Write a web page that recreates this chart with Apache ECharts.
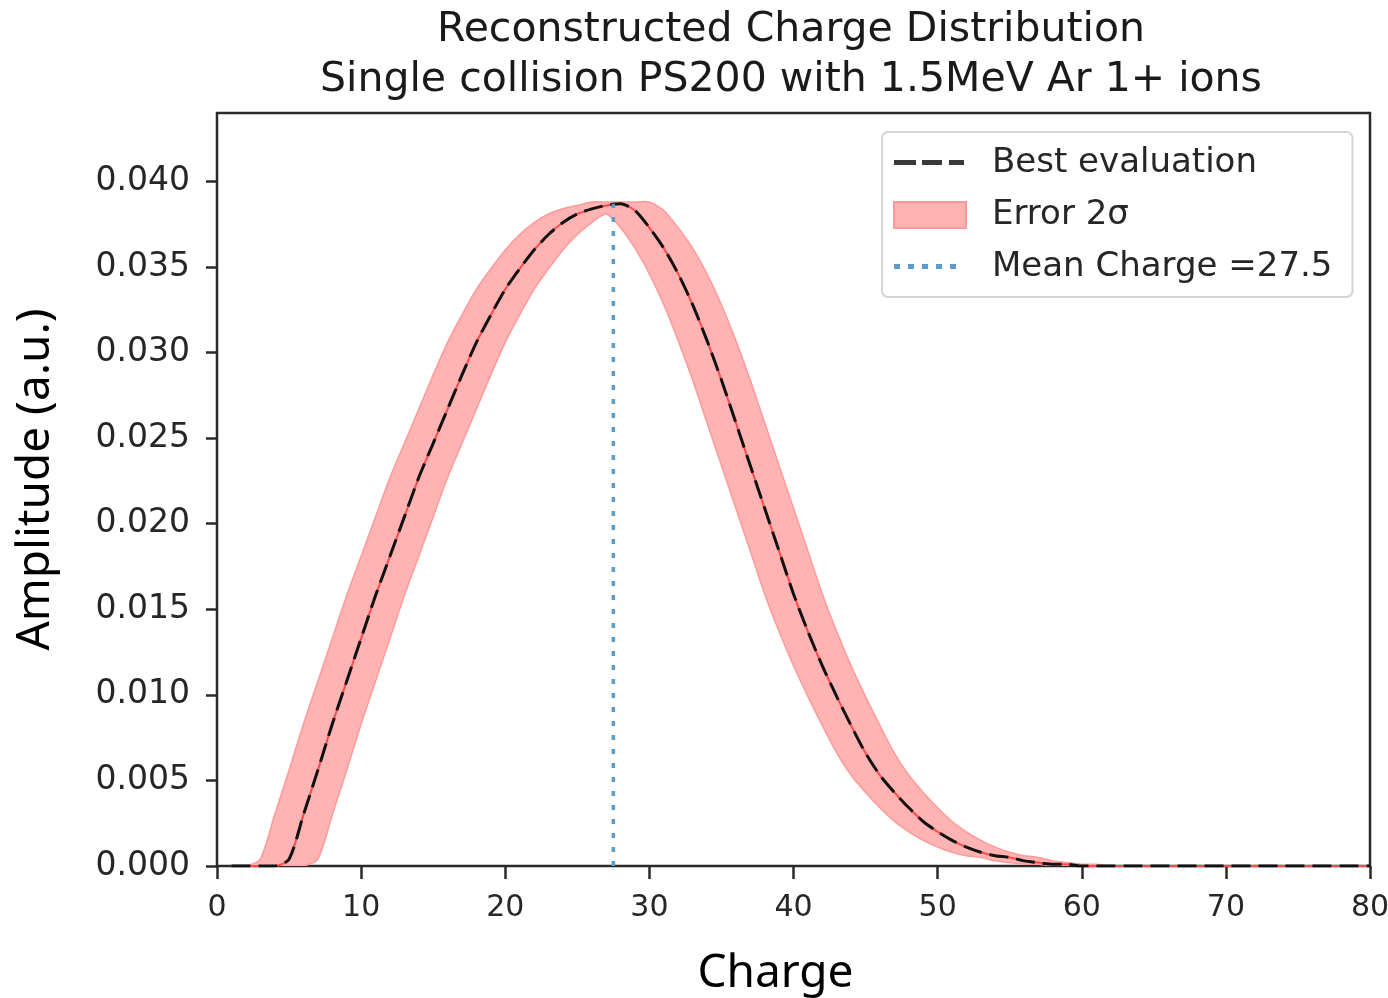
<!DOCTYPE html>
<html>
<head>
<meta charset="utf-8">
<script src="https://cdn.jsdelivr.net/npm/echarts@6/dist/echarts.min.js"></script>
<style>
html,body{margin:0;padding:0;background:#fff;}
#chart{width:1388px;height:998px;}
</style>
</head>
<body>
<div id="chart"></div>
<script>
// ---- data ----
const charge = [1,2,3,4,5,6,7,8,9,10,11,12,13,14,15,16,17,18,19,20,
  21,22,23,24,25,26,27,28,29,30,31,32,33,34,35,36,37,38,39,40,
  41,42,43,44,45,46,47,48,49,50,51,52,53,54,55,56,57,58,59,60,
  61,62,63,64,65,66,67,68,69,70,71,72,73,74,75,76,77,78,79,80];
const bestEval = [0,0,0,0,0.0004,0.0030,0.0056,0.0083,0.0108,0.0133,
  0.0158,0.0181,0.0204,0.0227,0.0247,0.0267,0.0287,0.0306,0.0322,0.0337,
  0.0349,0.0360,0.0369,0.0376,0.0381,0.0384,0.0386,0.0387,0.0383,0.0373,
  0.0361,0.0346,0.0328,0.0307,0.0284,0.0259,0.0234,0.0209,0.0184,0.0159,
  0.0137,0.0117,0.0099,0.0082,0.0066,0.0053,0.0043,0.0034,0.0026,0.0020,
  0.0015,0.0011,0.0008,0.0006,0.0005,0.0003,0.0002,0.0001,0.0001,0,
  0,0,0,0,0,0,0,0,0,0,0,0,0,0,0,0,0,0,0,0];
const errLower = [0,0,0,0,0,0,0.0004,0.0030,0.0056,0.0083,
  0.0108,0.0133,0.0158,0.0181,0.0204,0.0227,0.0247,0.0267,0.0287,0.0306,
  0.0322,0.0337,0.0349,0.0360,0.0369,0.0376,0.0381,0.0373,0.0361,0.0346,
  0.0328,0.0307,0.0284,0.0259,0.0234,0.0209,0.0184,0.0159,0.0137,0.0117,
  0.0099,0.0082,0.0066,0.0053,0.0043,0.0034,0.0026,0.0020,0.0015,0.0011,
  0.0008,0.0006,0.0005,0.0003,0.0002,0.0001,0.0001,0,0,0,
  0,0,0,0,0,0,0,0,0,0,0,0,0,0,0,0,0,0,0,0];
const errUpper = [0,0,0.0004,0.0030,0.0056,0.0083,0.0108,0.0133,0.0158,0.0181,
  0.0204,0.0227,0.0247,0.0267,0.0287,0.0306,0.0322,0.0337,0.0349,0.0360,
  0.0369,0.0376,0.0381,0.0384,0.0386,0.0388,0.0388,0.0388,0.0388,0.0388,
  0.0383,0.0373,0.0361,0.0346,0.0328,0.0307,0.0284,0.0259,0.0234,0.0209,
  0.0184,0.0159,0.0137,0.0117,0.0099,0.0082,0.0066,0.0053,0.0043,0.0034,
  0.0026,0.0020,0.0015,0.0011,0.0008,0.0006,0.0005,0.0003,0.0002,0.0001,
  0.0001,0,0,0,0,0,0,0,0,0,0,0,0,0,0,0,0,0,0,0];
const meanCharge = 27.5;
const meanTop = 0.0387;
const xTicks = [0,10,20,30,40,50,60,70,80];
const yTicks = [0,0.005,0.010,0.015,0.020,0.025,0.030,0.035,0.040];

// ---- build series data ----
const pairs = (xs, ys) => xs.map((x, i) => [x, ys[i]]);
const bandRows = charge.map((x, i) => [x, errLower[i], errUpper[i]]);

const textCol = '#262626';
const tickFont = 'DejaVu Sans';
const axisCol = '#2a2a2a';

const dashIcon = 'path://M0,0Z M0,26Z M72,0Z M0,10h22v5h-22z M28,10h20v5h-20z M55,10h15v5h-15z';
const dotIcon = 'path://M0,0Z M0,26Z M72,0Z M0,10h6v5h-6z M14,10h6v5h-6z M28,10h6v5h-6z M42,10h6v5h-6z M56,10h6v5h-6z';

function renderBand(params, api) {
  if (params.dataIndex !== 0) return null;
  const n = bandRows.length;
  const pts = [];
  for (let i = 0; i < n; i++) pts.push(api.coord([bandRows[i][0], bandRows[i][2]]));
  for (let i = n - 1; i >= 0; i--) pts.push(api.coord([bandRows[i][0], bandRows[i][1]]));
  return {
    type: 'polygon',
    shape: {points: pts, smooth: 0.25},
    style: {fill: '#ffb3b3', stroke: '#ff9a9a', lineWidth: 1.5}
  };
}

const chart = echarts.init(document.getElementById('chart'), null, {renderer: 'canvas'});
chart.setOption({
  animation: false,
  backgroundColor: '#ffffff',
  title: {
    text: 'Reconstructed Charge Distribution\nSingle collision PS200 with 1.5MeV Ar 1+ ions',
    left: 791, top: 5, padding: 0, textAlign: 'center',
    textStyle: {fontFamily: tickFont, fontSize: 41, fontWeight: 'normal', color: '#1a1a1a', lineHeight: 50}
  },
  legend: {
    left: 882, top: 132,
    orient: 'vertical',
    selectedMode: false,
    padding: [14, 20, 13, 11],
    itemWidth: 72, itemHeight: 26, itemGap: 18,
    backgroundColor: '#ffffff',
    borderColor: '#d4d4d4', borderWidth: 2, borderRadius: 6,
    textStyle: {fontFamily: tickFont, fontSize: 34, color: textCol, padding: [0, 0, 0, 21]},
    data: [
      {name: 'Best evaluation', icon: dashIcon, itemStyle: {color: '#3a3a3a', borderWidth: 0}},
      {name: 'Error 2σ', icon: 'rect', itemStyle: {color: '#ffb3b3', borderColor: '#ff9999', borderWidth: 2}},
      {name: 'Mean Charge =27.5', icon: dotIcon, itemStyle: {color: '#5a9bd0', borderWidth: 0}}
    ]
  },
  grid: {
    left: 217, right: 18, top: 113, bottom: 132,
    outerBoundsMode: 'none', containLabel: false,
    show: true, borderColor: axisCol, borderWidth: 2.5, backgroundColor: 'transparent'
  },
  xAxis: {
    type: 'value', min: 0, max: 80, interval: 10,
    name: 'Charge', nameLocation: 'middle', nameGap: 85,
    nameTextStyle: {fontFamily: 'Noto Sans', fontSize: 46, color: '#000', padding: [0, 36, 0, 0]},
    axisLine: {show: false},
    axisTick: {show: true, inside: false, length: 13, lineStyle: {color: axisCol, width: 2.5}, customValues: xTicks},
    axisLabel: {fontFamily: tickFont, fontSize: 30, color: textCol, margin: 27, customValues: xTicks},
    splitLine: {show: false}
  },
  yAxis: {
    type: 'value', min: 0, max: 0.044,
    name: 'Amplitude (a.u.)', nameLocation: 'middle', nameGap: 158,
    nameTextStyle: {fontFamily: 'Noto Sans', fontSize: 46, color: '#000', padding: [0, 0, 0, 20]},
    axisLine: {show: false},
    axisTick: {show: true, inside: false, length: 11, lineStyle: {color: axisCol, width: 2.5}, customValues: yTicks},
    axisLabel: {fontFamily: tickFont, fontSize: 33, color: textCol, margin: 27, customValues: yTicks,
      formatter: v => v.toFixed(3)},
    splitLine: {show: false}
  },
  series: [
    {
      name: 'Error 2σ', type: 'custom', data: bandRows, renderItem: renderBand,
      silent: true, z: 1, clip: true,
      itemStyle: {color: '#ffb3b3'},
      encode: {x: 0, y: [1, 2]}
    },
    {
      name: 'bestRed', type: 'line', data: pairs(charge, bestEval),
      symbol: 'none', silent: true, z: 2, smooth: 0.25,
      lineStyle: {color: '#ff4a4a', width: 2}
    },
    {
      name: 'Best evaluation', type: 'line', data: pairs(charge, bestEval),
      symbol: 'none', silent: true, z: 3, smooth: 0.25,
      lineStyle: {color: '#111111', width: 3, type: [19, 8]}
    },
    {
      name: 'Mean Charge =27.5', type: 'line', data: [[meanCharge, 0], [meanCharge, meanTop]],
      symbol: 'none', silent: true, z: 4,
      lineStyle: {color: '#5a9bd0', width: 3.5, type: [5, 9]}
    }
  ]
});
</script>
</body>
</html>
